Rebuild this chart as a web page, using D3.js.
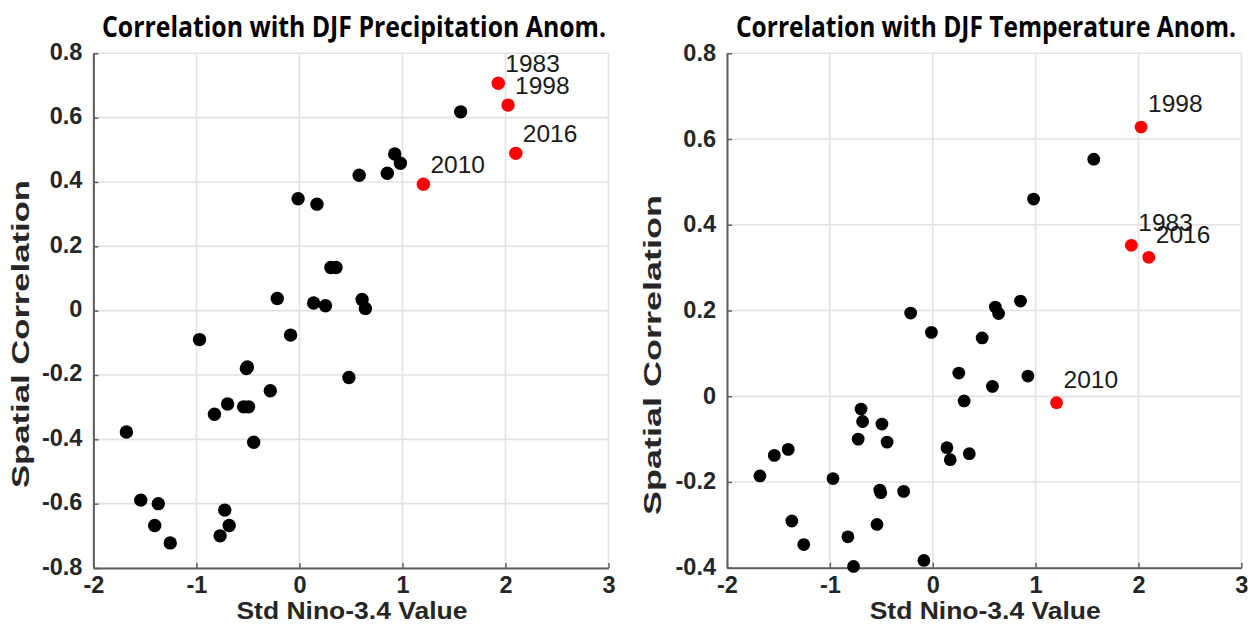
<!DOCTYPE html>
<html>
<head>
<meta charset="utf-8">
<script src="https://cdn.jsdelivr.net/npm/d3@7/dist/d3.min.js"></script>
<style>
  html, body { margin: 0; padding: 0; background: #ffffff; }
  svg { display: block; }
</style>
</head>
<body>
<svg id="chart" width="1251" height="625"></svg>
<script>
// ---------------- data ----------------
const ninoValues = [-1.68, -1.54, -1.405, -1.37, -1.254, -0.97, -0.825, -0.77, -0.725, -0.697,
  -0.682, -0.542, -0.515, -0.505, -0.494, -0.444, -0.283, -0.215, -0.086, -0.013,
  0.138, 0.17, 0.253, 0.305, 0.355, 0.48, 0.58, 0.608, 0.64, 0.853, 0.925, 0.98, 1.565];
const precipCorr = [-0.377, -0.589, -0.668, -0.600, -0.722, -0.090, -0.322, -0.700, -0.620, -0.290,
  -0.668, -0.299, -0.180, -0.175, -0.299, -0.409, -0.249, 0.038, -0.076, 0.348,
  0.024, 0.331, 0.015, 0.134, 0.134, -0.208, 0.421, 0.035, 0.007, 0.427, 0.487, 0.458, 0.618];
const tempCorr = [-0.186, -0.138, -0.124, -0.291, -0.346, -0.192, -0.328, -0.397, -0.100, -0.030,
  -0.059, -0.299, -0.219, -0.225, -0.065, -0.107, -0.222, 0.194, -0.383, 0.149,
  -0.120, -0.148, 0.054, -0.011, -0.134, 0.136, 0.023, 0.208, 0.193, 0.222, 0.047, 0.460, 0.553];

const eventYears = ["1983", "1998", "2016", "2010"];
const eventNino = [1.93, 2.025, 2.10, 1.203];
const eventPrecip = [0.707, 0.639, 0.489, 0.393];
const eventTemp = [0.352, 0.628, 0.324, -0.015];

const xTicks = [-2, -1, 0, 1, 2, 3];
const precipTicks = [0.8, 0.6, 0.4, 0.2, 0, -0.2, -0.4, -0.6, -0.8];
const tempTicks = [0.8, 0.6, 0.4, 0.2, 0, -0.2, -0.4];

const titles = ["Correlation with DJF Precipitation Anom.", "Correlation with DJF Temperature Anom."];
const xLabel = "Std Nino-3.4 Value";
const yLabel = "Spatial Correlation";

// ---------------- drawing ----------------
const svg = d3.select("#chart");

function fmt(v) {
  if (Math.abs(v) < 1e-9) return "0";
  return String(Math.round(v * 10) / 10);
}

function panel(cfg) {
  const x = d3.scaleLinear().domain([-2, 3]).range([cfg.x0, cfg.x1]);
  const y = d3.scaleLinear().domain(cfg.yDomain).range([cfg.y0, cfg.y1]);
  const g = svg.append("g");

  // grid
  g.append("g").selectAll("line.vg").data(xTicks).join("line")
    .attr("x1", d => x(d)).attr("x2", d => x(d))
    .attr("y1", cfg.y0).attr("y2", cfg.y1)
    .attr("stroke", "#e2e2e2").attr("stroke-width", 1.6);
  g.append("g").selectAll("line.hg").data(cfg.yTicks).join("line")
    .attr("x1", cfg.x0).attr("x2", cfg.x1)
    .attr("y1", d => y(d)).attr("y2", d => y(d))
    .attr("stroke", "#e2e2e2").attr("stroke-width", 1.6);

  // axes via d3 axis generators (inward ticks)
  const xAxis = d3.axisBottom(x).tickValues(xTicks).tickSizeInner(-5).tickSizeOuter(0).tickFormat(fmt);
  const gx = g.append("g").attr("transform", `translate(0,${cfg.y0})`).call(xAxis);
  gx.select(".domain").attr("stroke", "#606060").attr("stroke-width", 2);
  gx.selectAll(".tick line").attr("stroke", "#606060").attr("stroke-width", 1.5);
  gx.selectAll(".tick text")
    .attr("y", 25).attr("dy", 0)
    .attr("font-family", "'Liberation Sans', Arial, sans-serif")
    .attr("font-weight", "bold").attr("font-size", 23.5).attr("fill", "#262626");

  const yAxis = d3.axisLeft(y).tickValues(cfg.yTicks).tickSizeInner(-5).tickSizeOuter(0).tickFormat(fmt);
  const gy = g.append("g").attr("transform", `translate(${cfg.x0},0)`).call(yAxis);
  gy.select(".domain").attr("stroke", "#606060").attr("stroke-width", 2);
  gy.selectAll(".tick line").attr("stroke", "#606060").attr("stroke-width", 1.5);
  gy.selectAll(".tick text")
    .attr("x", -11).attr("dy", 0).attr("y", cfg.yLabelShift)
    .attr("font-family", "'Liberation Sans', Arial, sans-serif")
    .attr("font-weight", "bold").attr("font-size", 23.5).attr("fill", "#262626");

  // black dots
  g.append("g").selectAll("circle").data(ninoValues).join("circle")
    .attr("cx", d => x(d))
    .attr("cy", (d, i) => y(cfg.values[i]))
    .attr("r", cfg.r).attr("fill", "#000000");

  // red highlighted years
  g.append("g").selectAll("circle").data(eventNino).join("circle")
    .attr("cx", d => x(d))
    .attr("cy", (d, i) => y(cfg.events[i]))
    .attr("r", cfg.r).attr("fill", "#ff0000");
  g.append("g").selectAll("text").data(eventYears).join("text")
    .attr("x", (d, i) => x(eventNino[i] + 0.068))
    .attr("y", (d, i) => y(cfg.events[i] + 0.034))
    .attr("font-family", "'Liberation Sans', Arial, sans-serif")
    .attr("font-size", 24.5).attr("fill", "#1a1a1a")
    .text(d => d);

  // title
  svg.append("text")
    .attr("x", cfg.titleX).attr("y", 36.5)
    .attr("text-anchor", "middle")
    .attr("font-family", "'Open Sans', 'Noto Sans', sans-serif")
    .attr("font-weight", "bold").attr("font-size", 28)
    .attr("textLength", cfg.titleLen).attr("lengthAdjust", "spacingAndGlyphs")
    .attr("fill", "#000")
    .text(cfg.title);

  // x label
  svg.append("text")
    .attr("x", (cfg.x0 + cfg.x1) / 2 + 1).attr("y", 619)
    .attr("text-anchor", "middle")
    .attr("font-family", "'Liberation Sans', Arial, sans-serif")
    .attr("font-weight", "bold").attr("font-size", 24)
    .attr("textLength", 231).attr("lengthAdjust", "spacingAndGlyphs")
    .attr("fill", "#262626")
    .text(xLabel);

  // y label
  svg.append("text")
    .attr("transform", `translate(${cfg.yLabX},${cfg.yLabY}) rotate(-90)`)
    .attr("text-anchor", "middle")
    .attr("font-family", "'Liberation Sans', Arial, sans-serif")
    .attr("font-weight", "bold").attr("font-size", 24)
    .attr("textLength", cfg.yLabLen).attr("lengthAdjust", "spacingAndGlyphs")
    .attr("fill", "#262626")
    .text(yLabel);
}

panel({
  x0: 93.4, x1: 608.5, y0: 568, y1: 53.3,
  yDomain: [-0.8, 0.8], yTicks: precipTicks, yLabelShift: 6,
  values: precipCorr, events: eventPrecip, r: 6.7,
  title: titles[0], titleX: 354, titleLen: 504,
  yLabX: 29, yLabY: 334, yLabLen: 308
});
panel({
  x0: 727, x1: 1241.4, y0: 567.7, y1: 53.3,
  yDomain: [-0.4, 0.8], yTicks: tempTicks, yLabelShift: 7,
  values: tempCorr, events: eventTemp, r: 6.4,
  title: titles[1], titleX: 986, titleLen: 500,
  yLabX: 661, yLabY: 355, yLabLen: 320
});
</script>
</body>
</html>
